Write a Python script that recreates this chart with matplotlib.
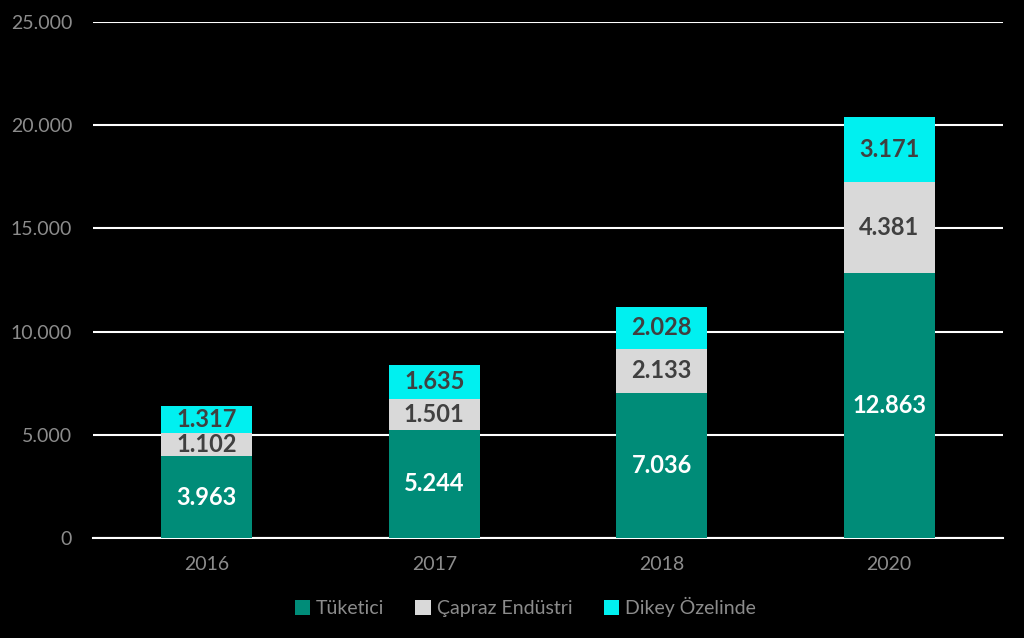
import matplotlib.pyplot as plt
import numpy as np

plt.rcParams['font.family'] = ['Lato', 'DejaVu Sans']

years = ['2016', '2017', '2018', '2020']
tuketici = [3963, 5244, 7036, 12863]
capraz = [1102, 1501, 2133, 4381]
dikey = [1317, 1635, 2028, 3171]

series_names = ['Tüketici', 'Çapraz Endüstri', 'Dikey Özelinde']
colors = ['#008C78', '#D9D9D9', '#00F0F0']
label_colors = ['white', '#404040', '#404040']

def fmt(v):
    return f'{v:,}'.replace(',', '.')

fig = plt.figure(figsize=(10.24, 6.38), dpi=100, facecolor='black')
ax = fig.add_axes([0.0908, 0.1567, 0.8887, 0.8088], facecolor='black')

x = np.arange(len(years))
bottom = np.zeros(len(years))
for vals, name, col, lcol in zip([tuketici, capraz, dikey], series_names, colors, label_colors):
    bars = ax.bar(x, vals, width=0.4, bottom=bottom, color=col, label=name, zorder=3)
    for b, v, bt in zip(bars, vals, bottom):
        ax.text(b.get_x() + b.get_width() / 2, bt + v / 2, fmt(v), ha='center', va='center',
                color=lcol, fontsize=17, fontweight='bold', zorder=4)
    bottom += np.array(vals)

ax.set_xlim(-0.5, 3.5)
ax.set_ylim(0, 25000)
ax.set_yticks(np.arange(0, 25001, 5000))
ax.set_yticklabels([fmt(v) for v in range(0, 25001, 5000)])
ax.set_xticks(x)
ax.set_xticklabels(years)
ax.yaxis.grid(True, color='white', linewidth=1.5, zorder=0)
ax.set_axisbelow(True)
for s in ['top', 'right', 'left']:
    ax.spines[s].set_visible(False)
ax.spines['bottom'].set_color('white')
ax.spines['bottom'].set_linewidth(1.5)
ax.tick_params(axis='both', length=0, colors='#8C8C8C', labelsize=14)
ax.tick_params(axis='y', pad=15)
ax.tick_params(axis='x', pad=13)

leg = ax.legend(loc='upper center', bbox_to_anchor=(0.475, -0.08), ncol=3, frameon=False,
                fontsize=14, handlelength=0.8, handleheight=0.8, handletextpad=0.3,
                columnspacing=1.6)
for t in leg.get_texts():
    t.set_color('#8C8C8C')

fig.savefig('out.png', dpi=100, facecolor='black')
